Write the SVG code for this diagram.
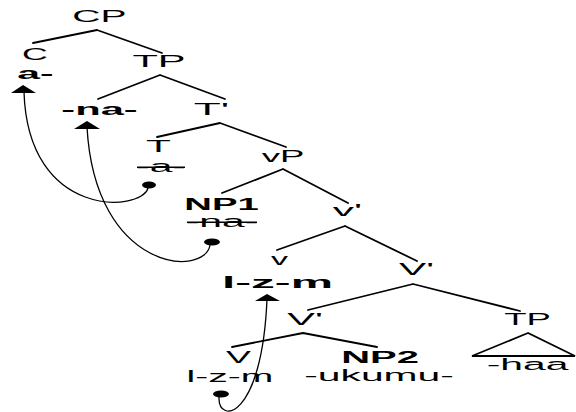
<svg xmlns="http://www.w3.org/2000/svg" width="576" height="412" viewBox="0 0 576 412">
<style>
text{font-family:"Liberation Sans",Arial,sans-serif;font-size:17px;text-anchor:middle;fill:#000}
.b{font-weight:bold}
.e{stroke:#000;stroke-width:1.8;fill:none;stroke-linecap:round}
.m{stroke:#000;stroke-width:1.3;fill:none}
.st{stroke:#000;stroke-width:1.6}
.h{fill:#000}
</style>
<rect width="576" height="412" fill="#fff"/>
<g id="connectors">
<path class="e" d="M97 30L33 43M97 30L162 53"/>
<path class="e" d="M160 75L98 99M160 75L225 99"/>
<path class="e" d="M220 123L157 137M220 123L286 147"/>
<path class="e" d="M283 169L222 193M283 169L348 203"/>
<path class="e" d="M345 226L277 250M345 226L417 261"/>
<path class="e" d="M413 284L308 310M413 284L520 311"/>
<path class="e" d="M303 333L232 347M303 333L377 347"/>
<path class="e" d="M528 333L472 356L575 356Z"/>
<path class="m" d="M148 188C142 212 28 220 24 92"/>
<ellipse class="h" cx="149" cy="185" rx="7" ry="3.5"/>
<polygon class="h" points="23,85 11,93 36,93"/>
<path class="m" d="M210 245C205 278 95 272 87 127"/>
<ellipse class="h" cx="212" cy="242" rx="8" ry="3.5"/>
<polygon class="h" points="87,121 74,129 100,129"/>
<path class="m" d="M219 397C218 425 262 420 267 299"/>
<ellipse class="h" cx="221" cy="394" rx="8" ry="3.5"/>
<polygon class="h" points="267,294 255,301 280,301"/>
</g>
<g id="CP"><text transform="translate(99.5 22) scale(2.3 1)">CP</text></g>
<g id="C"><text transform="translate(35 60) scale(2.1 1)">C</text><text class="b" transform="translate(35.5 79) scale(2.4 1)">a-</text></g>
<g id="TP1"><text transform="translate(159 67) scale(2.45 1)">TP</text></g>
<g id="na"><text class="b" transform="translate(99.5 115) scale(2.45 1)">-na-</text></g>
<g id="Tbar"><text transform="translate(211.5 115) scale(2.6 1)">T'</text></g>
<g id="T"><text transform="translate(158.5 152) scale(2.4 1)">T</text><text transform="translate(161 172) scale(2.4 1)">-a-</text><line class="st" x1="137" y1="167.3" x2="185" y2="167.3"/></g>
<g id="vP"><text transform="translate(283 162) scale(2.15 1)">vP</text></g>
<g id="NP1"><text class="b" transform="translate(221.5 210) scale(2.25 1)">NP1</text><text transform="translate(222 227) scale(2.4 1)">-na-</text><line class="st" x1="187" y1="222.3" x2="257" y2="222.3"/></g>
<g id="vbar"><text transform="translate(347.5 216) scale(2.5 1)">v'</text></g>
<g id="v"><text transform="translate(279.5 265) scale(2 1)">v</text><text class="b" transform="translate(277.5 288) scale(2.8 1)">l-z-m</text></g>
<g id="Vbar1"><text transform="translate(416.5 275) scale(2.4 1)">V'</text></g>
<g id="Vbar2"><text transform="translate(305 325) scale(2.45 1)">V'</text></g>
<g id="TP2"><text transform="translate(527.5 325) scale(2.15 1)">TP</text><text transform="translate(527.5 370) scale(2.4 1)">-haa</text></g>
<g id="V"><text transform="translate(238.5 363) scale(2.2 1)">V</text><text transform="translate(230 382) scale(2.3 1)">l-z-m</text></g>
<g id="NP2"><text class="b" transform="translate(380 362.5) scale(2.35 1)">NP2</text><text style="font-size:16px" transform="translate(379 381) scale(2.55 1)">-ukumu-</text></g>
</svg>
